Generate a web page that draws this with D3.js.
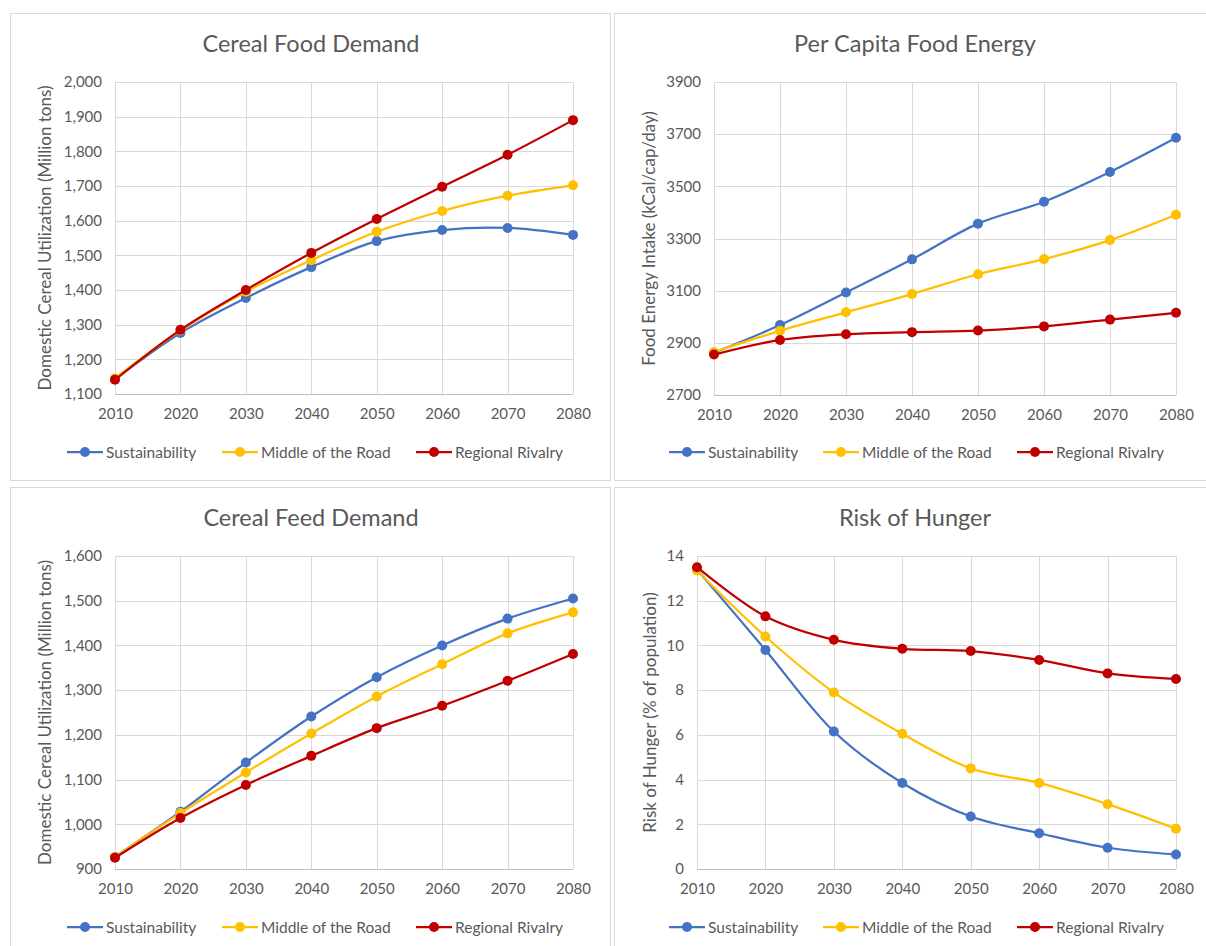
<!DOCTYPE html>
<html><head><meta charset="utf-8">
<script src="https://cdn.jsdelivr.net/npm/d3@7"></script>
<style>
body{margin:0;background:#fff;}
text{font-family:Lato,"Open Sans",sans-serif;fill:#595959;}
</style></head>
<body><svg id="c" width="1206" height="946"></svg>
<script>
const years = [2010,2020,2030,2040,2050,2060,2070,2080];
const seriesNames = ["Sustainability","Middle of the Road","Regional Rivalry"];
const colors = ["#4472C4","#FFC000","#C00000"];

const foodSust = [1143,1276,1377,1466,1541,1573,1579,1559];
const foodMid  = [1145,1283,1395,1486,1568,1628,1672,1702];
const foodReg  = [1141,1285,1400,1507,1605,1698,1790,1890];
const foodTicks = [1100,1200,1300,1400,1500,1600,1700,1800,1900,2000];

const energySust = [2862,2968,3093,3220,3357,3441,3555,3686];
const energyMid  = [2865,2946,3017,3087,3163,3221,3294,3391];
const energyReg  = [2855,2911,2933,2941,2947,2963,2989,3015];
const energyTicks = [2700,2900,3100,3300,3500,3700,3900];

const feedSust = [927,1028,1138,1241,1329,1400,1460,1505];
const feedMid  = [927,1025,1116,1203,1286,1358,1427,1474];
const feedReg  = [925,1014,1088,1153,1215,1265,1321,1381];
const feedTicks = [900,1000,1100,1200,1300,1400,1500,1600];

const hungerSust = [13.4,9.8,6.15,3.85,2.35,1.6,0.95,0.65];
const hungerMid  = [13.35,10.4,7.9,6.05,4.5,3.85,2.9,1.8];
const hungerReg  = [13.5,11.3,10.25,9.85,9.75,9.35,8.75,8.5];
const hungerTicks = [0,2,4,6,8,10,12,14];

const svg = d3.select("#c");

const panels = [
  {box:[10,13,600,467], title:"Cereal Food Demand", ylab:"Domestic Cereal Utilization (Million tons)",
   data:[foodSust,foodMid,foodReg], ticks:foodTicks, fmt:d3.format(","), plot:[115,573,82,394], ylabX:45, legY:452,
   leg:[67,222,416]},
  {box:[614,13,600,467], title:"Per Capita Food Energy", ylab:"Food Energy Intake (kCal/cap/day)",
   data:[energySust,energyMid,energyReg], ticks:energyTicks, fmt:d3.format("d"), plot:[714,1176,82,395], ylabX:649, legY:452,
   leg:[669,823,1017]},
  {box:[10,487,600,470], title:"Cereal Feed Demand", ylab:"Domestic Cereal Utilization (Million tons)",
   data:[feedSust,feedMid,feedReg], ticks:feedTicks, fmt:d3.format(","), plot:[115,573,556,869], ylabX:45, legY:927,
   leg:[67,222,416]},
  {box:[614,487,600,470], title:"Risk of Hunger", ylab:"Risk of Hunger (% of population)",
   data:[hungerSust,hungerMid,hungerReg], ticks:hungerTicks, fmt:d3.format("d"), plot:[697,1176,556,869], ylabX:650, legY:927,
   leg:[669,823,1017]}
];

panels.forEach(p => {
  const g = svg.append("g");
  g.append("rect").attr("x",p.box[0]+0.5).attr("y",p.box[1]+0.5).attr("width",p.box[2]).attr("height",p.box[3])
    .attr("fill","#fff").attr("stroke","#D9D9D9").attr("stroke-width",1);
  const [x0,x1,y0,y1] = p.plot;
  const x = d3.scalePoint().domain(years).range([x0,x1]);
  const y = d3.scaleLinear().domain(d3.extent(p.ticks)).range([y1,y0]);
  // grid
  g.append("g").selectAll("line.h").data(p.ticks).join("line")
    .attr("x1",x0).attr("x2",x1).attr("y1",d=>Math.round(y(d))+0.5).attr("y2",d=>Math.round(y(d))+0.5)
    .attr("stroke","#D9D9D9").attr("stroke-width",1);
  g.append("g").selectAll("line.v").data(years).join("line")
    .attr("x1",d=>Math.round(x(d))+0.5).attr("x2",d=>Math.round(x(d))+0.5).attr("y1",y0).attr("y2",y1)
    .attr("stroke","#D9D9D9").attr("stroke-width",1);
  // axes
  const ya = g.append("g").attr("transform",`translate(${x0-10},0)`)
    .call(d3.axisLeft(y).tickValues(p.ticks).tickFormat(p.fmt).tickSize(0));
  ya.select(".domain").remove();
  ya.selectAll("text").attr("font-size",15).style("fill","#595959").style("font-family","Lato");
  const xa = g.append("g").attr("transform",`translate(0,${y1+11})`)
    .call(d3.axisBottom(x).tickSize(0));
  xa.select(".domain").remove();
  xa.selectAll("text").attr("font-size",15).style("fill","#595959").style("font-family","Lato");
  g.append("line").attr("x1",x0).attr("x2",x1).attr("y1",Math.round(y1)+0.5).attr("y2",Math.round(y1)+0.5)
    .attr("stroke","#BFBFBF");
  // title
  g.append("text").attr("x",p.box[0]+p.box[2]/2+1).attr("y",p.box[1]+39).attr("text-anchor","middle")
    .attr("font-size",23.5).text(p.title);
  // y label
  g.append("text").attr("transform",`translate(${p.ylabX+6},${(y0+y1)/2}) rotate(-90)`).attr("text-anchor","middle")
    .attr("font-size",17).text(p.ylab);
  // lines
  const line = d3.line().x((d,i)=>x(years[i])).y(d=>y(d)).curve(d3.curveCatmullRom.alpha(0.5));
  p.data.forEach((s,k)=>{
    g.append("path").attr("d",line(s)).attr("fill","none").attr("stroke",colors[k]).attr("stroke-width",2.25)
      .attr("stroke-linejoin","round");
    g.append("g").selectAll("circle").data(s).join("circle")
      .attr("cx",(d,i)=>x(years[i])).attr("cy",d=>y(d)).attr("r",5).attr("fill",colors[k]);
  });
  // legend
  seriesNames.forEach((n,k)=>{
    const lx = p.leg[k];
    g.append("line").attr("x1",lx).attr("x2",lx+36).attr("y1",p.legY).attr("y2",p.legY)
      .attr("stroke",colors[k]).attr("stroke-width",2.25);
    g.append("circle").attr("cx",lx+18).attr("cy",p.legY).attr("r",5).attr("fill",colors[k]);
    g.append("text").attr("x",lx+39).attr("y",p.legY+5.5).attr("font-size",15.5).text(n);
  });
});
</script></body></html>
